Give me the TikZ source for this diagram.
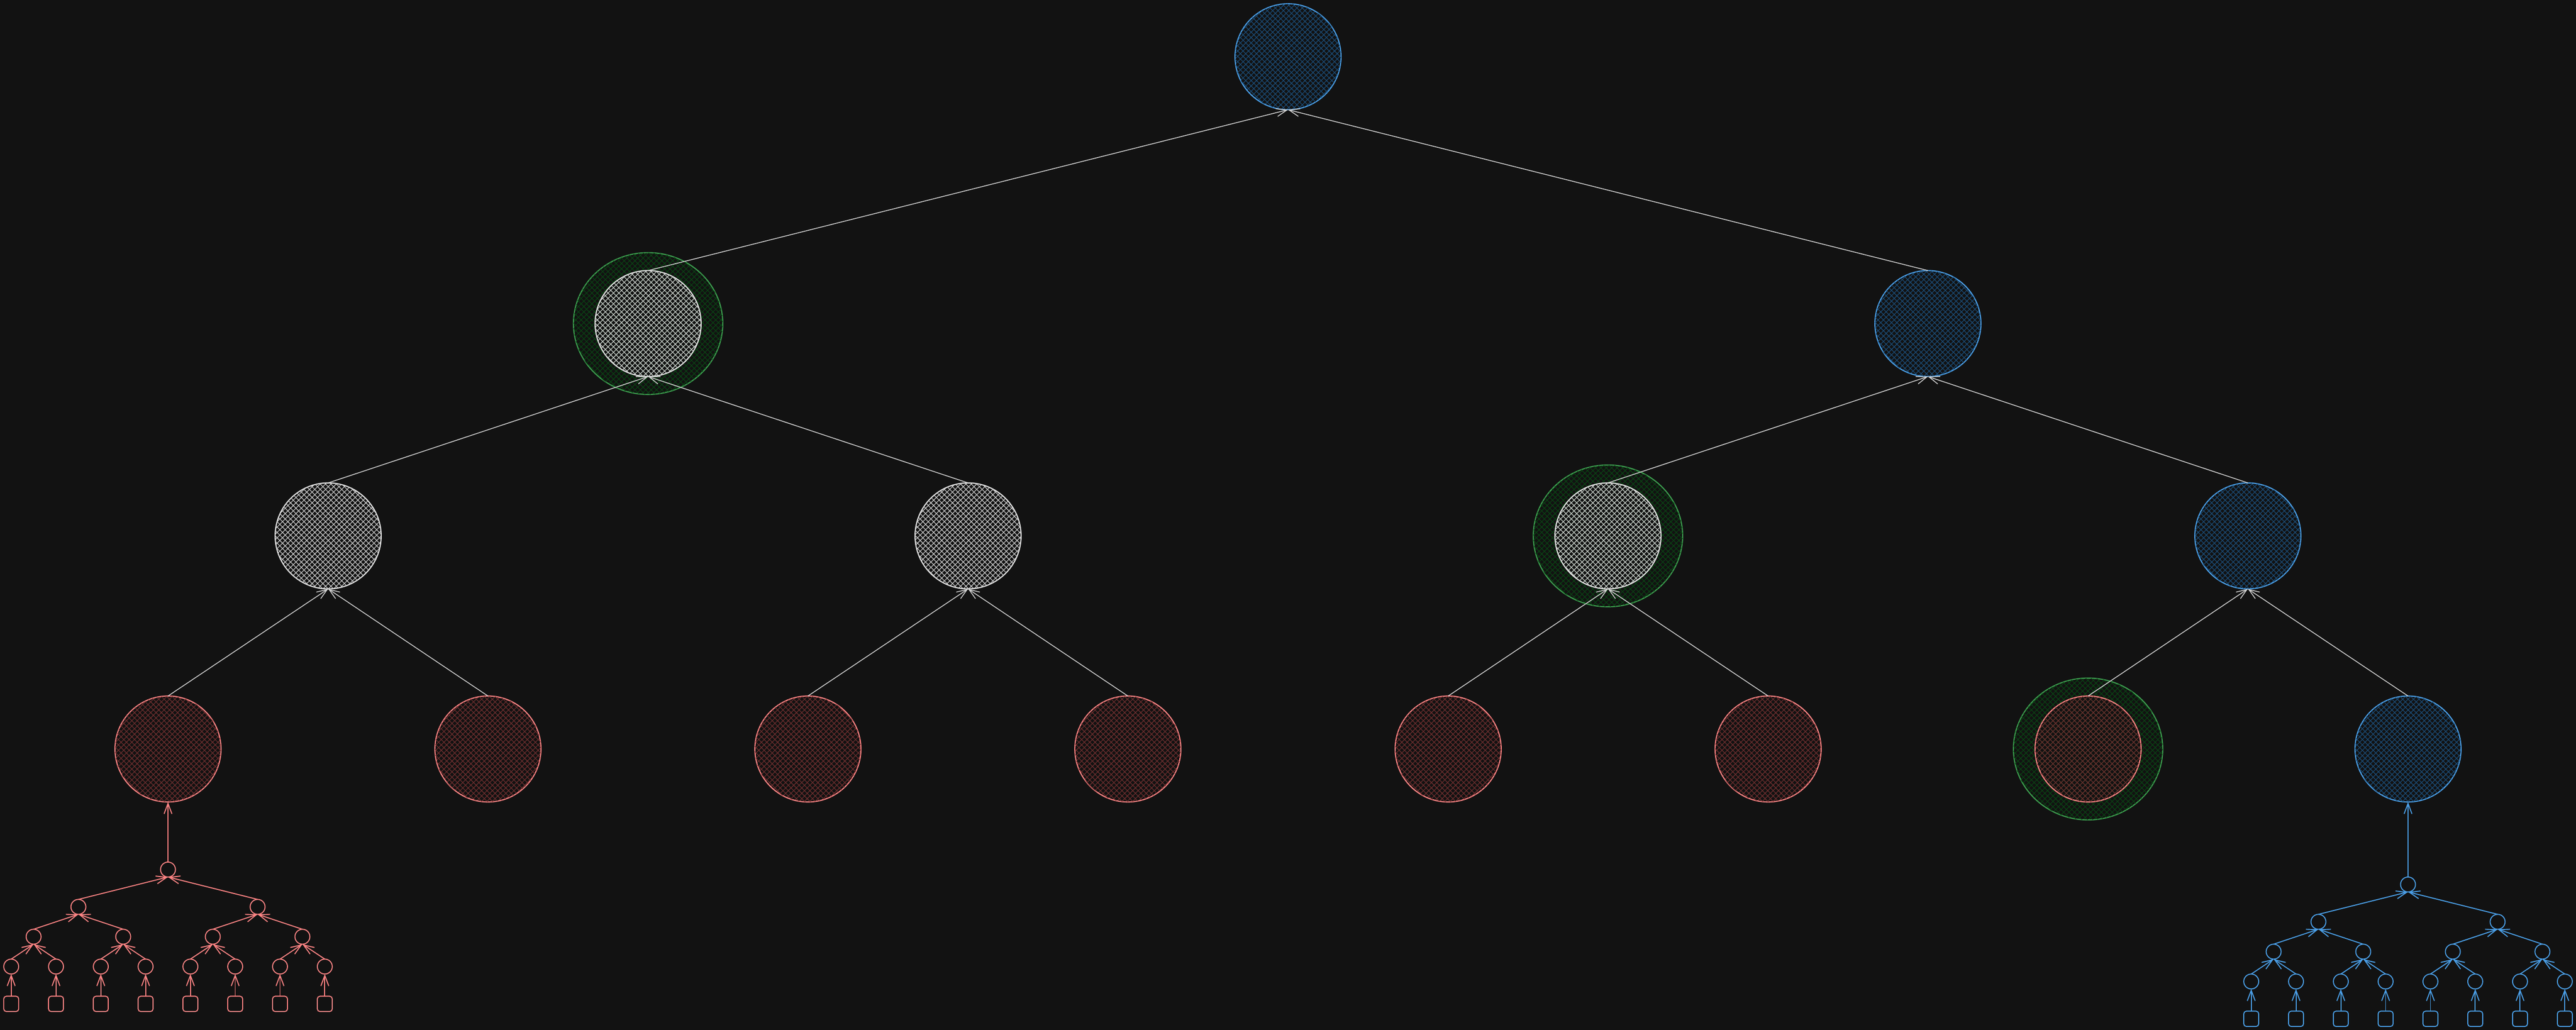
\documentclass[tikz,border=0pt]{standalone}
\usepackage{tkz-graph}
\usetikzlibrary{arrows.meta}
\usetikzlibrary{shapes}
\usetikzlibrary{patterns.meta}

\definecolor{bgc}{HTML}{121212}
\definecolor{edgegray}{HTML}{D4D4D4}
\definecolor{blueline}{HTML}{4A9EE6}
\definecolor{bluehatch}{HTML}{1B4C76}
\definecolor{whiteline}{HTML}{E2E2E2}
\definecolor{whitehatch}{HTML}{CACACA}
\definecolor{redline}{HTML}{FF8383}
\definecolor{redhatch}{HTML}{6C2E2E}
\definecolor{greenline}{HTML}{3C9C4E}
\definecolor{greenhatch}{HTML}{0B4214}

\begin{document}
\begin{tikzpicture}[x=1cm,y=1cm]
   \fill[bgc] (0,0) rectangle (69,-27.6);
   \useasboundingbox (0,0) rectangle (69,-27.6);
   \SetVertexNoLabel
   \tikzset{
     hatch/.style={pattern color=#1,pattern={Lines[angle=45,distance=2.9pt,line width=.5pt]},
       postaction={pattern color=#1,pattern={Lines[angle=-45,distance=2.9pt,line width=.5pt]}}},
     big/.style={shape=circle,minimum size=2.84cm,inner sep=0pt,line width=.85pt},
     BlueVertex/.style={big,draw=blueline,hatch=bluehatch},
     WhiteVertex/.style={big,draw=whiteline,hatch=whitehatch},
     RedVertex/.style={big,draw=redline,hatch=redhatch},
     GreenRing/.style={shape=ellipse,minimum width=4cm,minimum height=3.8cm,inner sep=0pt,
       line width=.85pt,draw=greenline,hatch=greenhatch},
     SmallVertex/.style={shape=circle,minimum size=.4cm,inner sep=0pt,line width=.75pt,draw=#1},
     SmallLeaf/.style={shape=rectangle,rounded corners=2pt,minimum width=.4cm,minimum height=.41cm,
       inner sep=0pt,line width=.75pt,draw=#1},
     LabelStyle/.style={inner sep=0pt},
     EdgeStyle/.style={-{Straight Barb[length=8pt,width=6pt]},draw=edgegray,line width=.6pt}
   }
   \tikzset{VertexStyle/.style={GreenRing}}
   \Vertex[x=17.36,y=-8.67]{g1}
   \Vertex[x=43.07,y=-14.36]{g2}
   \Vertex[x=55.93,y=-20.07]{g3}
   \tikzset{VertexStyle/.style={BlueVertex}}
   \Vertex[x=34.5,y=-1.52]{r}
   \Vertex[x=51.64,y=-8.67]{a2}
   \Vertex[x=60.21,y=-14.36]{b4}
   \Vertex[x=64.5,y=-20.07]{c8}
   \tikzset{VertexStyle/.style={WhiteVertex}}
   \Vertex[x=17.36,y=-8.67]{a1}
   \Vertex[x=8.79,y=-14.36]{b1}
   \Vertex[x=25.93,y=-14.36]{b2}
   \Vertex[x=43.07,y=-14.36]{b3}
   \tikzset{VertexStyle/.style={RedVertex}}
   \Vertex[x=4.5,y=-20.07]{c1}
   \Vertex[x=13.07,y=-20.07]{c2}
   \Vertex[x=21.64,y=-20.07]{c3}
   \Vertex[x=30.21,y=-20.07]{c4}
   \Vertex[x=38.79,y=-20.07]{c5}
   \Vertex[x=47.36,y=-20.07]{c6}
   \Vertex[x=55.93,y=-20.07]{c7}
   \Edge(a1.north)(r.south)
   \Edge(a2.north)(r.south)
   \Edge(b1.north)(a1.south)
   \Edge(b2.north)(a1.south)
   \Edge(b3.north)(a2.south)
   \Edge(b4.north)(a2.south)
   \Edge(c1.north)(b1.south)
   \Edge(c2.north)(b1.south)
   \Edge(c3.north)(b2.south)
   \Edge(c4.north)(b2.south)
   \Edge(c5.north)(b3.south)
   \Edge(c6.north)(b3.south)
   \Edge(c7.north)(b4.south)
   \Edge(c8.north)(b4.south)
   \foreach \tr/\ox/\oy/\col/\pa in {p/0/0/redline/c1,q/60/-0.4/blueline/c8}{
     \begin{scope}[shift={(\ox,\oy)}]
       \tikzset{VertexStyle/.style={SmallVertex=\col},EdgeStyle/.append style={draw=\col,line width=.75pt}}
       \Vertex[x=4.5,y=-23.3]{\tr1}
       \foreach \i/\x in {2/2.1,3/6.9}{\Vertex[x=\x,y=-24.3]{\tr\i}}
       \foreach \i/\x in {4/0.9,5/3.3,6/5.7,7/8.1}{\Vertex[x=\x,y=-25.1]{\tr\i}}
       \foreach \i [evaluate=\i as \x using 0.3+1.2*(\i-8)] in {8,...,15}{\Vertex[x=\x,y=-25.9]{\tr\i}}
       \tikzset{VertexStyle/.style={SmallLeaf=\col}}
       \foreach \i [evaluate=\i as \x using 0.3+1.2*(\i-8)] in {8,...,15}{\Vertex[x=\x,y=-26.9]{\tr l\i}}
       \foreach \i in {2,...,15}{\pgfmathtruncatemacro\up{\i/2}\Edge(\tr\i.north)(\tr\up.south)}
       \foreach \i in {8,...,15}{\Edge(\tr l\i.north)(\tr\i.south)}
       \Edge(\tr1.north)(\pa.south)
     \end{scope}
   }
\end{tikzpicture}
\end{document}
